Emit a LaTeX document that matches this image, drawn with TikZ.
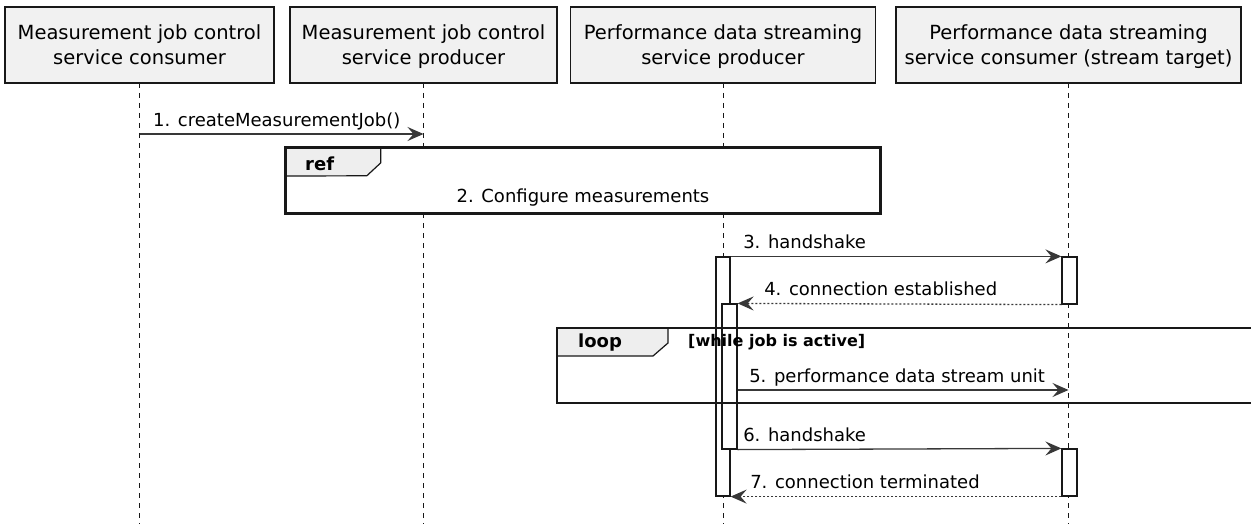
\documentclass[tikz,border=0pt]{standalone}
\usepackage{fontspec}
\setmainfont{DejaVu Sans}
\usepackage{tikz}
\usepackage{xcolor}
\usetikzlibrary{arrows.meta}

\begin{document}
\begin{tikzpicture}[x=1pt,y=-1pt,
  partbox/.style={rectangle,draw=umlline,fill=umlfill,line width=1.4pt,minimum height=76pt,inner sep=0pt,align=center,font=\fontsize{19.5}{25}\selectfont},
  lifeline/.style={draw=umlline,line width=1pt,dash pattern=on 5pt off 5pt},
  actbar/.style={rectangle,draw=umlline,fill=white,line width=1.2pt,inner sep=0pt,minimum width=15pt},
  msg/.style={draw=msgline,line width=1.3pt,-{Stealth[length=16pt,width=14pt,inset=6pt]}},
  reply/.style={msg,dash pattern=on 2pt off 2pt},
  msglabel/.style={anchor=base west,inner sep=0pt,font=\fontsize{18}{22}\selectfont},
  frame/.style={draw=umlline,line width=2.8pt},
  tab/.style={draw=umlline,fill=tabfill,line width=1.2pt},
  framelabel/.style={anchor=base west,inner sep=0pt,font=\bfseries\fontsize{18}{22}\selectfont}]
\definecolor{umlline}{HTML}{181818}
\definecolor{msgline}{HTML}{383838}
\definecolor{umlfill}{HTML}{F1F1F1}
\definecolor{tabfill}{HTML}{EEEEEE}
\useasboundingbox (0,0) rectangle (1251,524);
\fill[white] (0,0) rectangle (1251,524);
\clip (0,0) rectangle (1251,524);
% participants and lifelines
\foreach \nm/\cx/\w/\first/\second in {p1/139.5/269/Measurement job control/service consumer,
    p2/423.5/267/Measurement job control/service producer,
    p3/723/305/Performance data streaming/service producer,
    p4/1068.5/345/Performance data streaming/service consumer (stream target)}
  {\draw[lifeline] (\cx,83) -- (\cx,524);
   \node[partbox,minimum width=\w pt] (\nm) at (\cx,45) {\rule{0pt}{20pt}\first\\\second\rule[-5pt]{0pt}{5pt}};}
% ref frame
\node[fill=white,minimum width=594pt,minimum height=65pt,inner sep=0pt] (ref) at (583,180.5) {};
\filldraw[tab] (ref.north west) -- ++(95,0) -- ++(0,15) -- ++(-14,13) -- (ref.west |- 0,176) -- cycle;
\draw[frame] (ref.north west) rectangle (ref.south east);
\node[framelabel] (reftag) at (305,171) {ref};
\node[anchor=base,inner sep=0pt,font=\fontsize{18}{22}\selectfont] (refname) at (583,202) {2. Configure measurements};
% activations
\node[actbar,minimum width=14pt,minimum height=239pt] (a3) at (723,376.5) {};
\node[actbar,minimum height=145pt] (a3b) at (729.5,376.5) {};
\node[actbar,minimum height=47pt] (a4) at (1069.5,280.5) {};
\node[actbar,minimum height=47pt] (a4b) at (1069.5,472.5) {};
% loop frame
\coordinate (loopnw) at (557,328);
\coordinate (loopse) at (1265,403);
\filldraw[tab] (loopnw) -- ++(111,0) -- ++(0,15) -- ++(-15,13) -- (loopnw |- 0,356) -- cycle;
\draw[frame] (loopnw) rectangle (loopse);
\node[framelabel] (looptag) at (578,347) {loop};
\node[framelabel,font=\bfseries\fontsize{16}{20}\selectfont] (loopguard) at (688,346) {[while job is active]};
% messages
\draw[msg] (p1 |- 0,134) -- (p2 |- 0,134) node[msglabel,pos=0,xshift=13pt,yshift=7pt] (m1) {1. createMeasurementJob()};
\draw[msg] (a3.north east) -- (a4.north west) node[msglabel,pos=0,xshift=12pt,yshift=8pt] (m3) {3. handshake};
\draw[reply] (a4.south west) -- (a3b.north east) node[msglabel,pos=1,xshift=26pt,yshift=8pt] (m4) {4. connection established};
\draw[msg] (a3b.east |- 0,390) -- (p4 |- 0,390) node[msglabel,pos=0,xshift=11pt,yshift=8pt] (m5) {5. performance data stream unit};
\draw[msg] (a3b.south east) -- (a4b.north west) node[msglabel,pos=0,xshift=5pt,yshift=8pt] (m6) {6. handshake};
\draw[reply] (a4b.south west) -- (a3.south east) node[msglabel,pos=1,xshift=19pt,yshift=8pt] (m7) {7. connection terminated};
\end{tikzpicture}
\end{document}
